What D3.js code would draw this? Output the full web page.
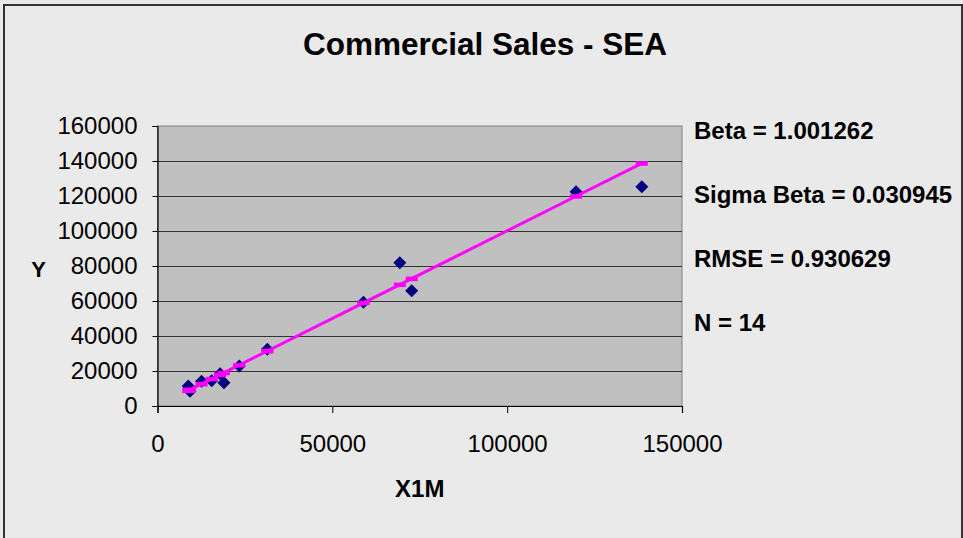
<!DOCTYPE html>
<html><head><meta charset="utf-8">
<script src="https://cdn.jsdelivr.net/npm/d3@7"></script>
<style>
html,body{margin:0;padding:0;background:#eaeaea;overflow:hidden;}
svg{display:block;font-family:Arial,"Liberation Sans",sans-serif;}
</style></head>
<body>
<script>
const chartTitle = "Commercial Sales - SEA";
const xTitle = "X1M";
const yTitle = "Y";
const xTicks = [0, 50000, 100000, 150000];
const yTicks = [0, 20000, 40000, 60000, 80000, 100000, 120000, 140000, 160000];
const xValues = [8800, 9300, 9000, 12600, 15500, 17900, 19000, 23400, 31400, 58900, 69300, 72700, 119700, 138500];
const yValues = [11500, 8500, 10000, 14200, 14500, 18500, 13300, 22800, 32400, 59300, 81900, 65900, 122500, 125300];
const fittedX = [8800, 9000, 9300, 12600, 15500, 17900, 19000, 23400, 31400, 58900, 69300, 72700, 119700, 138500];
const fittedY = [8811, 9011, 9312, 12616, 15520, 17923, 19024, 23430, 31440, 58974, 69387, 72792, 119851, 138675];
const stats = ["Beta = 1.001262", "Sigma Beta = 0.030945", "RMSE = 0.930629", "N = 14"];

const W = 963, H = 538;
const FONT = "Arial, 'Liberation Sans', sans-serif";
const svg = d3.select("body").append("svg").attr("width", W).attr("height", H);

// chart area
svg.append("rect").attr("x", 4).attr("y", 5).attr("width", 958).attr("height", H)
  .attr("fill", "#eaeaea").attr("stroke", "#333").attr("stroke-width", 2);

const L = 157.5, R = 682, T = 126, B = 406;
const x = d3.scaleLinear().domain([0, 150000]).range([L, R]);
const y = d3.scaleLinear().domain([0, 160000]).range([B, T]);

// plot area
svg.append("rect").attr("x", L).attr("y", T).attr("width", R - L).attr("height", B - T)
  .attr("fill", "#c0c0c0").attr("stroke", "#808080").attr("stroke-width", 1);

// gridlines
svg.append("g").selectAll("line").data(yTicks.slice(1, -1)).join("line")
  .attr("x1", L).attr("x2", R).attr("y1", d => Math.round(y(d)) + 0.5).attr("y2", d => Math.round(y(d)) + 0.5)
  .attr("stroke", "#333").attr("stroke-width", 1);

// axes
const yAxis = d3.axisLeft(y).tickValues(yTicks).tickFormat(d3.format("d")).tickSize(5).tickPadding(15);
const gy = svg.append("g").attr("transform", `translate(${L},0)`).call(yAxis);
const xAxis = d3.axisBottom(x).tickValues(xTicks).tickFormat(d3.format("d")).tickSize(7).tickPadding(22);
const gx = svg.append("g").attr("transform", `translate(0,${B})`).call(xAxis);
[gx, gy].forEach(g => {
  g.select(".domain").attr("stroke", "#000").attr("stroke-width", 1.2);
  g.selectAll(".tick line").attr("stroke", "#000");
  g.selectAll(".tick text").attr("fill", "#000").style("font-size", "24px").style("font-family", FONT);
});

// points
svg.append("g").selectAll("path").data(xValues).join("path")
  .attr("d", "M0,-6.5L6.5,0L0,6.5L-6.5,0Z")
  .attr("transform", (d, i) => `translate(${x(d)},${y(yValues[i])})`)
  .attr("fill", "#000080");

// regression line
const line = d3.line().x((d, i) => x(fittedX[i])).y((d, i) => y(fittedY[i]));
svg.append("path").datum(fittedX).attr("d", line).attr("fill", "none")
  .attr("stroke", "#ff00ff").attr("stroke-width", 3);
svg.append("g").selectAll("rect").data(fittedX).join("rect")
  .attr("x", (d) => x(d) - 6).attr("y", (d, i) => y(fittedY[i]) - 2)
  .attr("width", 12).attr("height", 4.5).attr("fill", "#ff00ff");

// title
svg.append("text").attr("x", 485).attr("y", 55).attr("text-anchor", "middle")
  .style("font-weight", "bold").style("font-size", "31.5px").text(chartTitle);
svg.append("text").attr("x", (L + R) / 2).attr("y", 497).attr("text-anchor", "middle")
  .style("font-weight", "bold").style("font-size", "24px").text(xTitle);
svg.append("text").attr("x", 38.5).attr("y", 277).attr("text-anchor", "middle")
  .style("font-weight", "bold").style("font-size", "22px").text(yTitle);

// stats
svg.append("g").selectAll("text").data(stats).join("text")
  .attr("x", 694).attr("y", (d, i) => 139 + i * 64)
  .style("font-weight", "bold").style("font-size", "24px").text(d => d);
</script>
</body></html>
